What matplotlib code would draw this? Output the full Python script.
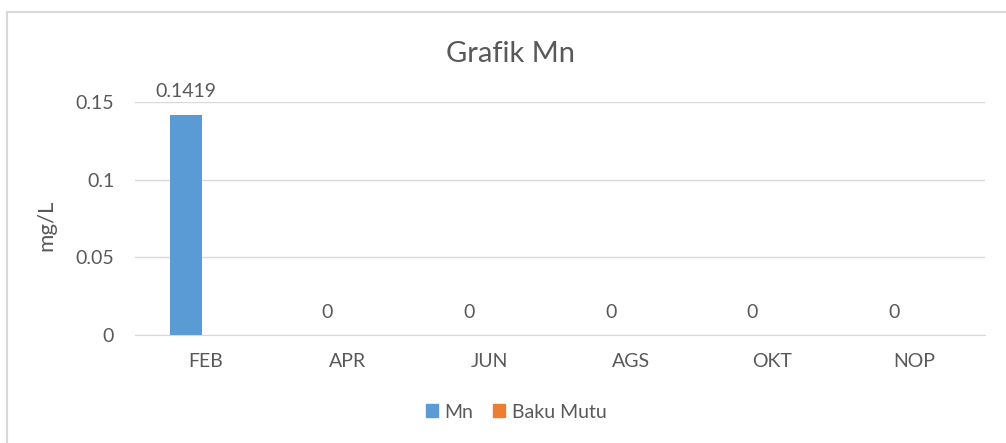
import matplotlib
matplotlib.use("Agg")
import matplotlib.pyplot as plt
from matplotlib.patches import Patch
from matplotlib.lines import Line2D
import numpy as np

categories = ["FEB", "APR", "JUN", "AGS", "OKT", "NOP"]
mn_values = [0.1419, 0, 0, 0, 0, 0]
baku_mutu_values = [np.nan] * 6
yticks = [0, 0.05, 0.1, 0.15]
ytick_labels = ["0", "0.05", "0.1", "0.15"]

plt.rcParams['font.family'] = ['Lato', 'DejaVu Sans']
txt = '#595959'
grid = '#d9d9d9'
blue = '#5b9bd5'
orange = '#ed7d31'

fig = plt.figure(figsize=(10.06, 4.43), dpi=100)
# chart-area border (only top and left edges visible in the crop)
fig.add_artist(Line2D([7/1006, 1.0], [1-11.5/443, 1-11.5/443], transform=fig.transFigure,
                      color='#d9d9d9', linewidth=1.5))
fig.add_artist(Line2D([7/1006, 7/1006], [1-11.5/443, 0.0], transform=fig.transFigure,
                      color='#d9d9d9', linewidth=1.5))

ax = fig.add_axes([135/1006, 1-335/443, 850/1006, (335-102)/443])

x = np.arange(len(categories))
w = 0.226
off = 0.141
ax.bar(x - off, mn_values, w, color=blue, label='Mn')
ax.bar(x + off, np.nan_to_num(baku_mutu_values), w, color=orange, label='Baku Mutu')

for xi, v in zip(x, mn_values):
    ax.annotate(f"{v:g}", (xi - off, v), xytext=(0, 12.5), textcoords='offset points',
                ha='center', va='baseline', fontsize=14, color=txt)

ax.set_xlim(-0.5, len(categories) - 0.5)
ax.set_ylim(0, 0.15)
ax.set_yticks(yticks)
ax.set_yticklabels(ytick_labels)
ax.set_xticks(x)
ax.set_xticklabels(categories)
ax.tick_params(axis='both', length=0, labelsize=14, colors=txt)
ax.tick_params(axis='x', pad=13)
ax.tick_params(axis='y', pad=15)
ax.yaxis.grid(True, color=grid, linewidth=1)
ax.set_axisbelow(True)
for s in ['top', 'right', 'left']:
    ax.spines[s].set_visible(False)
ax.spines['bottom'].set_color(grid)
ax.set_ylabel('mg/L', fontsize=16, color=txt)
ax.yaxis.set_label_coords(56/1006, 218/443, transform=fig.transFigure)

fig.text(511/1006, 1-54/443, 'Grafik Mn', ha='center', va='center', fontsize=21, color=txt)

handles = [Patch(color=blue), Patch(color=orange)]
fig.legend(handles, ['Mn', 'Baku Mutu'], loc='center', bbox_to_anchor=(516/1006, 1-412/443),
           ncol=2, frameon=False, fontsize=14, labelcolor=txt, handlelength=0.62, handleheight=0.62,
           handletextpad=0.35, columnspacing=1.0)

fig.savefig('out.png', dpi=100)
